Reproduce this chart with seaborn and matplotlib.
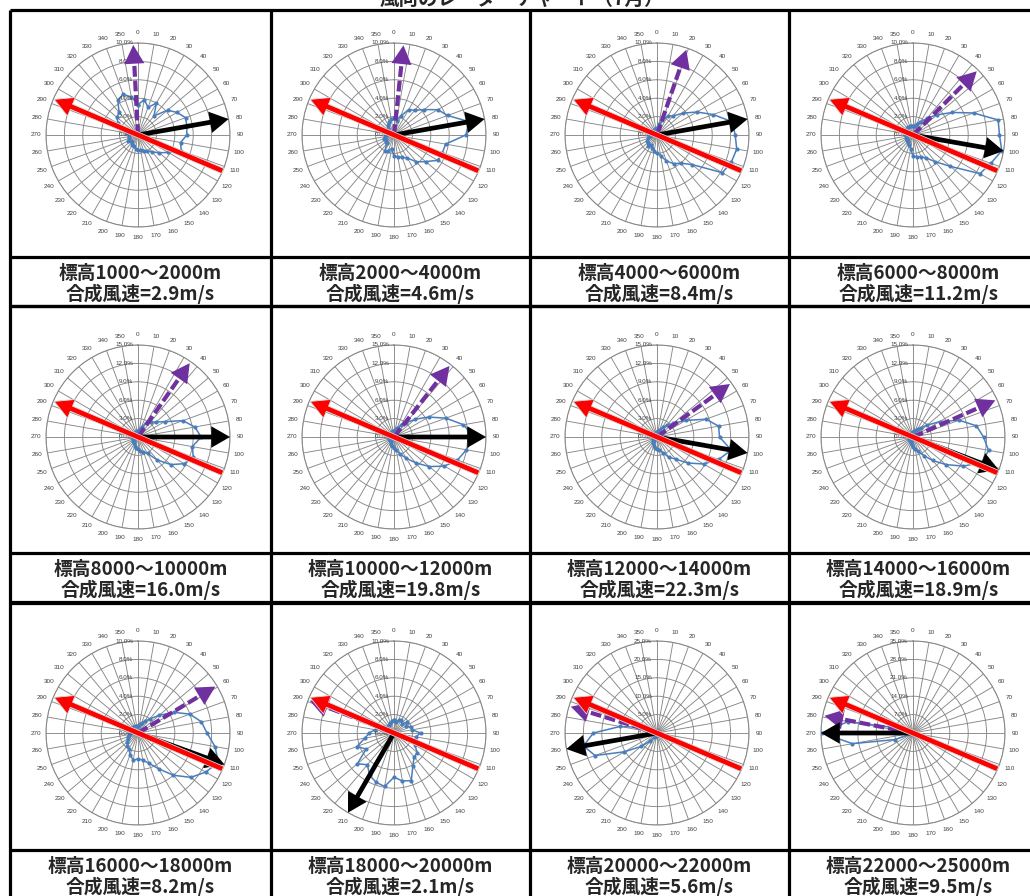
import numpy as np
import matplotlib
matplotlib.use('Agg')
import matplotlib.pyplot as plt
import seaborn as sns
from matplotlib.transforms import offset_copy

# 風向別の出現頻度(%)  0,10,...,350度
directions = list(range(0, 360, 10))

freq_1000_2000 = [3.3, 3.9, 3.2, 4.0, 2.7, 4.2, 4.9, 5.5, 5.4, 5.3, 4.7, 5.0,
                  3.8, 3.0, 2.4, 2.0, 1.8, 1.7, 1.6, 1.5, 1.3, 1.2, 1.0, 1.0,
                  1.2, 1.0, 1.0, 1.0, 1.3, 1.5, 2.5, 3.0, 3.2, 4.4, 4.7, 4.2]
freq_2000_4000 = [1.8, 1.6, 2.2, 3.2, 3.5, 4.3, 5.5, 6.2, 8.3, 7.8, 5.7, 5.6,
                  5.5, 4.5, 3.8, 2.9, 2.6, 2.4, 2.3, 1.5, 1.8, 2.0, 1.2, 1.2,
                  1.0, 1.2, 1.0, 0.8, 0.8, 0.8, 0.8, 0.8, 1.0, 1.2, 1.5, 1.8]
freq_4000_6000 = [0.8, 1.2, 1.7, 2.4, 2.7, 3.7, 5.0, 6.5, 8.3, 8.5, 8.8, 8.6,
                  8.2, 5.0, 4.0, 3.6, 3.0, 2.3, 2.0, 1.8, 1.5, 1.2, 1.5, 1.3,
                  1.2, 1.0, 0.8, 0.5, 0.5, 0.5, 0.5, 0.5, 0.6, 0.6, 0.7, 0.7]
freq_6000_8000 = [1.0, 1.0, 1.3, 1.6, 2.4, 3.4, 4.9, 7.0, 9.4, 9.4, 9.8, 9.0,
                  8.4, 5.3, 3.8, 2.9, 2.5, 2.4, 2.3, 1.5, 1.2, 1.0, 0.8, 0.8,
                  0.8, 0.8, 0.8, 0.8, 0.8, 0.8, 0.8, 0.9, 1.0, 1.0, 1.0, 1.0]
freq_8000_10000 = [1.0, 1.2, 1.8, 2.6, 3.2, 3.8, 5.0, 7.8, 9.4, 10.3, 9.0, 9.6,
                   8.7, 7.0, 4.9, 3.1, 2.6, 2.3, 2.0, 1.8, 1.5, 1.2, 1.0, 1.0,
                   0.8, 0.8, 0.8, 0.8, 0.8, 0.8, 0.8, 0.8, 0.8, 0.8, 0.9, 1.0]
freq_10000_12000 = [1.0, 1.2, 1.5, 2.2, 3.0, 4.5, 6.5, 9.0, 11.5, 13.0, 12.0, 11.0,
                    9.5, 7.5, 5.5, 4.0, 3.0, 2.2, 1.8, 1.5, 1.2, 1.0, 0.8, 0.8,
                    0.8, 0.8, 0.8, 0.8, 0.8, 0.8, 0.8, 0.8, 0.8, 0.8, 0.9, 1.0]
freq_12000_14000 = [0.8, 1.0, 1.3, 1.8, 2.5, 3.5, 5.4, 8.5, 10.2, 10.2, 12.3, 10.7,
                    8.8, 6.6, 4.7, 3.8, 2.7, 2.2, 2.0, 1.8, 1.5, 1.2, 1.0, 0.7,
                    0.7, 0.7, 0.7, 0.7, 0.7, 0.7, 0.7, 0.7, 0.7, 0.7, 0.7, 0.7]
freq_14000_16000 = [0.8, 1.0, 1.2, 1.5, 2.0, 3.0, 5.0, 8.0, 10.5, 11.5, 12.5, 12.0,
                    9.5, 7.0, 5.0, 3.5, 2.5, 2.0, 1.6, 1.3, 1.0, 0.7, 0.7, 0.7,
                    0.7, 0.7, 0.7, 0.7, 0.7, 0.7, 0.7, 0.7, 0.7, 0.7, 0.7, 0.7]
freq_16000_18000 = [0.8, 1.0, 1.2, 1.5, 2.0, 3.0, 4.5, 6.0, 7.0, 7.5, 8.5, 9.3,
                    8.5, 7.5, 6.0, 4.5, 3.5, 3.0, 2.8, 3.0, 2.5, 2.0, 1.8, 1.5,
                    1.3, 1.2, 1.0, 0.8, 0.8, 0.8, 0.8, 0.8, 0.8, 0.8, 0.8, 0.8]
freq_18000_20000 = [1.4, 1.2, 1.5, 1.6, 1.3, 1.8, 1.5, 2.0, 2.0, 2.9, 2.4, 2.5,
                    2.6, 3.3, 3.4, 4.1, 5.5, 5.3, 4.8, 5.9, 5.7, 5.3, 4.5, 5.2,
                    3.5, 4.3, 3.2, 2.7, 2.1, 1.5, 1.2, 1.0, 1.0, 1.0, 1.2, 1.3]
freq_20000_22000 = [0.5, 0.5, 0.5, 0.5, 0.5, 0.5, 0.5, 0.5, 0.5, 0.5, 0.5, 0.5,
                    0.5, 0.5, 0.5, 0.5, 0.5, 0.5, 0.5, 0.6, 0.8, 1.2, 2.9, 5.7,
                    10.2, 17.9, 20.3, 17.3, 10.2, 4.5, 1.5, 0.8, 0.5, 0.5, 0.5, 0.5]
freq_22000_25000 = [0.3, 0.3, 0.3, 0.3, 0.3, 0.3, 0.3, 0.3, 0.3, 0.3, 0.3, 0.3,
                    0.3, 0.3, 0.3, 0.3, 0.3, 0.3, 0.3, 0.3, 0.3, 0.3, 0.3, 0.3,
                    0.5, 7.3, 23.4, 34.5, 25.1, 5.0, 1.0, 0.3, 0.3, 0.3, 0.3, 0.3]

panel_freqs = [freq_1000_2000, freq_2000_4000, freq_4000_6000, freq_6000_8000,
               freq_8000_10000, freq_10000_12000, freq_12000_14000, freq_14000_16000,
               freq_16000_18000, freq_18000_20000, freq_20000_22000, freq_22000_25000]
ring_max = [10, 10, 10, 10, 15, 15, 15, 15, 10, 10, 25, 35]

# 合成風向(黒), 紫の破線矢印の向き, 赤の基準線の向き (度)
resultant_dir = [80, 80, 80, 100, 90, 90, 100, 111, 110, 210, 260, 270]
purple_dir = [357, 6, 19, 45, 35, 38, 54, 66, 59, 291, 287, 281]
ref_dir = 293

height_labels = ['標高1000～2000m', '標高2000～4000m', '標高4000～6000m', '標高6000～8000m',
                 '標高8000～10000m', '標高10000～12000m', '標高12000～14000m', '標高14000～16000m',
                 '標高16000～18000m', '標高18000～20000m', '標高20000～22000m', '標高22000～25000m']
speeds = [2.9, 4.6, 8.4, 11.2, 16.0, 19.8, 22.3, 18.9, 8.2, 2.1, 5.6, 9.5]
title = '風向のレーダーチャート（7月）'

sns.set_theme(style='white')
plt.rcParams['font.family'] = ['Noto Sans CJK JP', 'DejaVu Sans']

W, H = 1030, 896
fig = plt.figure(figsize=(W / 100, H / 100), dpi=100)
fig.patch.set_facecolor('white')

# 表の枠
bg = fig.add_axes([0, 0, 1, 1])
bg.set_xlim(0, W)
bg.set_ylim(H, 0)
bg.axis('off')
col_x = [10, 271, 530, 789, 1048]
row_top = [10, 306, 603]
chart_h, label_h = 247, 49
for x in col_x:
    bg.vlines(x, 10, 900, color='black', lw=2.3)
for t in row_top:
    bg.hlines([t, t + chart_h, t + chart_h + label_h], 10, 1048, color='black', lw=2.3)

bg.text(522, 9, title, ha='center', va='bottom', fontsize=14, weight='bold')

cx = [138, 394, 657, 913]
cy = [135, 437, 733]
R = 92
grid_c = '#878787'
txt_c = '#404040'
blue = '#4a7ebb'
purple = '#7030a0'

theta_closed = np.deg2rad(directions + [360])

for i in range(12):
    r, c = divmod(i, 4)
    ax = fig.add_axes([(cx[c] - R) / W, 1 - (cy[r] + R) / H, 2 * R / W, 2 * R / H],
                      projection='polar')
    ax.set_theta_zero_location('N')
    ax.set_theta_direction(-1)
    rmax = ring_max[i]
    step = rmax / 5

    vals = panel_freqs[i] + [panel_freqs[i][0]]
    sns.lineplot(x=theta_closed, y=vals, ax=ax, sort=False, estimator=None,
                 color=blue, linewidth=1.1, marker='o', markersize=3,
                 markeredgewidth=0, zorder=3)

    ax.set_ylim(0, rmax)
    ax.set_yticks([step * k for k in range(1, 6)])
    ax.set_yticklabels([])
    ax.set_thetagrids(directions, labels=[str(d) for d in directions],
                      fontsize=4.6, color=txt_c, family='Liberation Sans')
    ax.tick_params(axis='x', length=0, pad=0.5)
    ax.grid(True, color=grid_c, lw=0.65)
    ax.spines['polar'].set_color(grid_c)
    ax.spines['polar'].set_linewidth(0.75)
    ax.set_xlabel('')
    ax.set_ylabel('')

    off = offset_copy(ax.transData, fig=fig, x=-5, y=0, units='dots')
    for k in range(6):
        ax.text(0, step * k, f'{step * k:.1f}%', transform=off, ha='right',
                va='center', fontsize=4.5, color=txt_c, family='Liberation Sans')

    # 紫の破線矢印
    tp = np.deg2rad(purple_dir[i])
    ax.plot([tp, tp], [0, 0.80 * rmax], color=purple, lw=3.0,
            linestyle=(0, (2.6, 0.9)), solid_capstyle='butt', zorder=4)
    ax.annotate('', xy=(tp, 0.98 * rmax), xytext=(tp, 0.78 * rmax),
                arrowprops=dict(arrowstyle='simple,head_length=1.35,head_width=1.45,tail_width=0.3',
                                fc=purple, ec=purple, lw=0, mutation_scale=10,
                                shrinkA=0, shrinkB=0),
                annotation_clip=False, zorder=4)

    # 黒の合成風向矢印
    tb = np.deg2rad(resultant_dir[i])
    ax.annotate('', xy=(tb, rmax), xytext=(tb, 0),
                arrowprops=dict(arrowstyle='simple,head_length=1.35,head_width=1.55,tail_width=0.34',
                                fc='black', ec='black', lw=0, mutation_scale=10,
                                shrinkA=0, shrinkB=0),
                annotation_clip=False, zorder=5)

    # 赤の基準線
    tr = np.deg2rad(ref_dir)
    ax.annotate('', xy=(tr, 0.99 * rmax), xytext=(tr - np.pi, rmax),
                arrowprops=dict(arrowstyle='simple,head_length=1.35,head_width=1.45,tail_width=0.4',
                                fc='#ff0000', ec='#d9d9d9', lw=0.6, mutation_scale=10,
                                shrinkA=0, shrinkB=0),
                annotation_clip=False, zorder=6)

    # ラベル
    xc = (col_x[c] + col_x[c + 1]) / 2
    yl = row_top[r] + chart_h
    bg.text(xc, yl + 16, height_labels[i], ha='center', va='center',
            fontsize=13.5, weight='bold')
    bg.text(xc, yl + 37, f'合成風速={speeds[i]:.1f}m/s', ha='center', va='center',
            fontsize=13.5, weight='bold')

fig.savefig('out.png', dpi=100, facecolor='white')
